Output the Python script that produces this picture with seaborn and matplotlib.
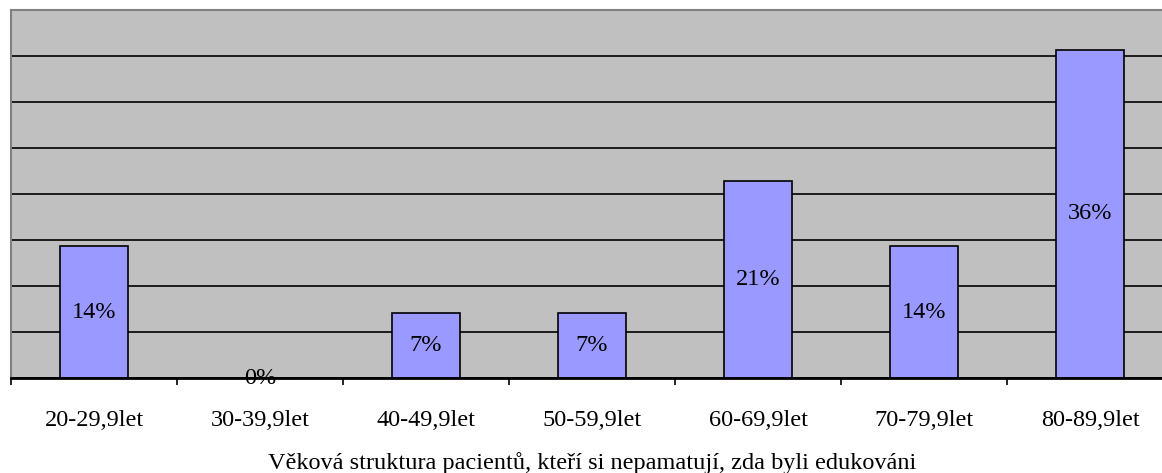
import numpy as np
import pandas as pd
import matplotlib
matplotlib.use("Agg")
import matplotlib.pyplot as plt
import seaborn as sns

# data
kategorie = ["20-29,9let", "30-39,9let", "40-49,9let", "50-59,9let",
             "60-69,9let", "70-79,9let", "80-89,9let"]
podil = [14.3, 0.0, 7.1, 7.1, 21.4, 14.3, 35.7]
popisky = ["14%", "0%", "7%", "7%", "21%", "14%", "36%"]
nazev_osy = "Věková struktura pacientů, kteří si nepamatují, zda byli edukováni"

sns.set_style("white")
plt.rcParams['font.family'] = ['Liberation Serif', 'DejaVu Serif']
plt.rcParams['text.color'] = 'black'
plt.rcParams['xtick.color'] = 'black'
plt.rcParams['axes.labelcolor'] = 'black'

df = pd.DataFrame({'vek': kategorie, 'podil': podil})

fig = plt.figure(figsize=(11.62, 4.73), dpi=100)
ax = fig.add_axes([11 / 1162, 95 / 473, 1162 / 1162, 368 / 473])
ax.set_facecolor("#C0C0C0")

sns.barplot(data=df, x='vek', y='podil', color="#9999FF", saturation=1,
            width=0.41, edgecolor="black", linewidth=1.2, ax=ax, zorder=3)

ax.set_ylim(0, 40)
ax.set_yticks(np.arange(0, 41, 5))
ax.set_yticklabels([])
ax.tick_params(axis='y', length=0)
ax.yaxis.grid(True, color="black", linewidth=1.2, zorder=1)
ax.set_axisbelow(True)
ax.set_xlim(-0.5, len(kategorie) - 0.5)

# popisky hodnot uprostred sloupcu
ax.bar_label(ax.containers[0], labels=popisky, label_type='center',
             fontsize=17.5, color='black', zorder=5)

# tick marks between categories
ax.set_xticks(np.arange(-0.5, len(kategorie)), minor=True)
ax.tick_params(axis='x', which='minor', direction='out', length=5, width=1.2,
               color="black", bottom=True)
ax.tick_params(axis='x', which='major', length=0, pad=23, labelsize=17.5,
               labelcolor='black')

ax.set_xlabel(nazev_osy, fontsize=17.5, labelpad=15, color='black')
ax.set_ylabel("")

for s in ["top", "left", "right"]:
    ax.spines[s].set_color("#808080")
    ax.spines[s].set_linewidth(1.5)
ax.spines["bottom"].set_color("black")
ax.spines["bottom"].set_linewidth(2)
ax.spines["bottom"].set_zorder(6)

fig.savefig("out.png", dpi=100)
